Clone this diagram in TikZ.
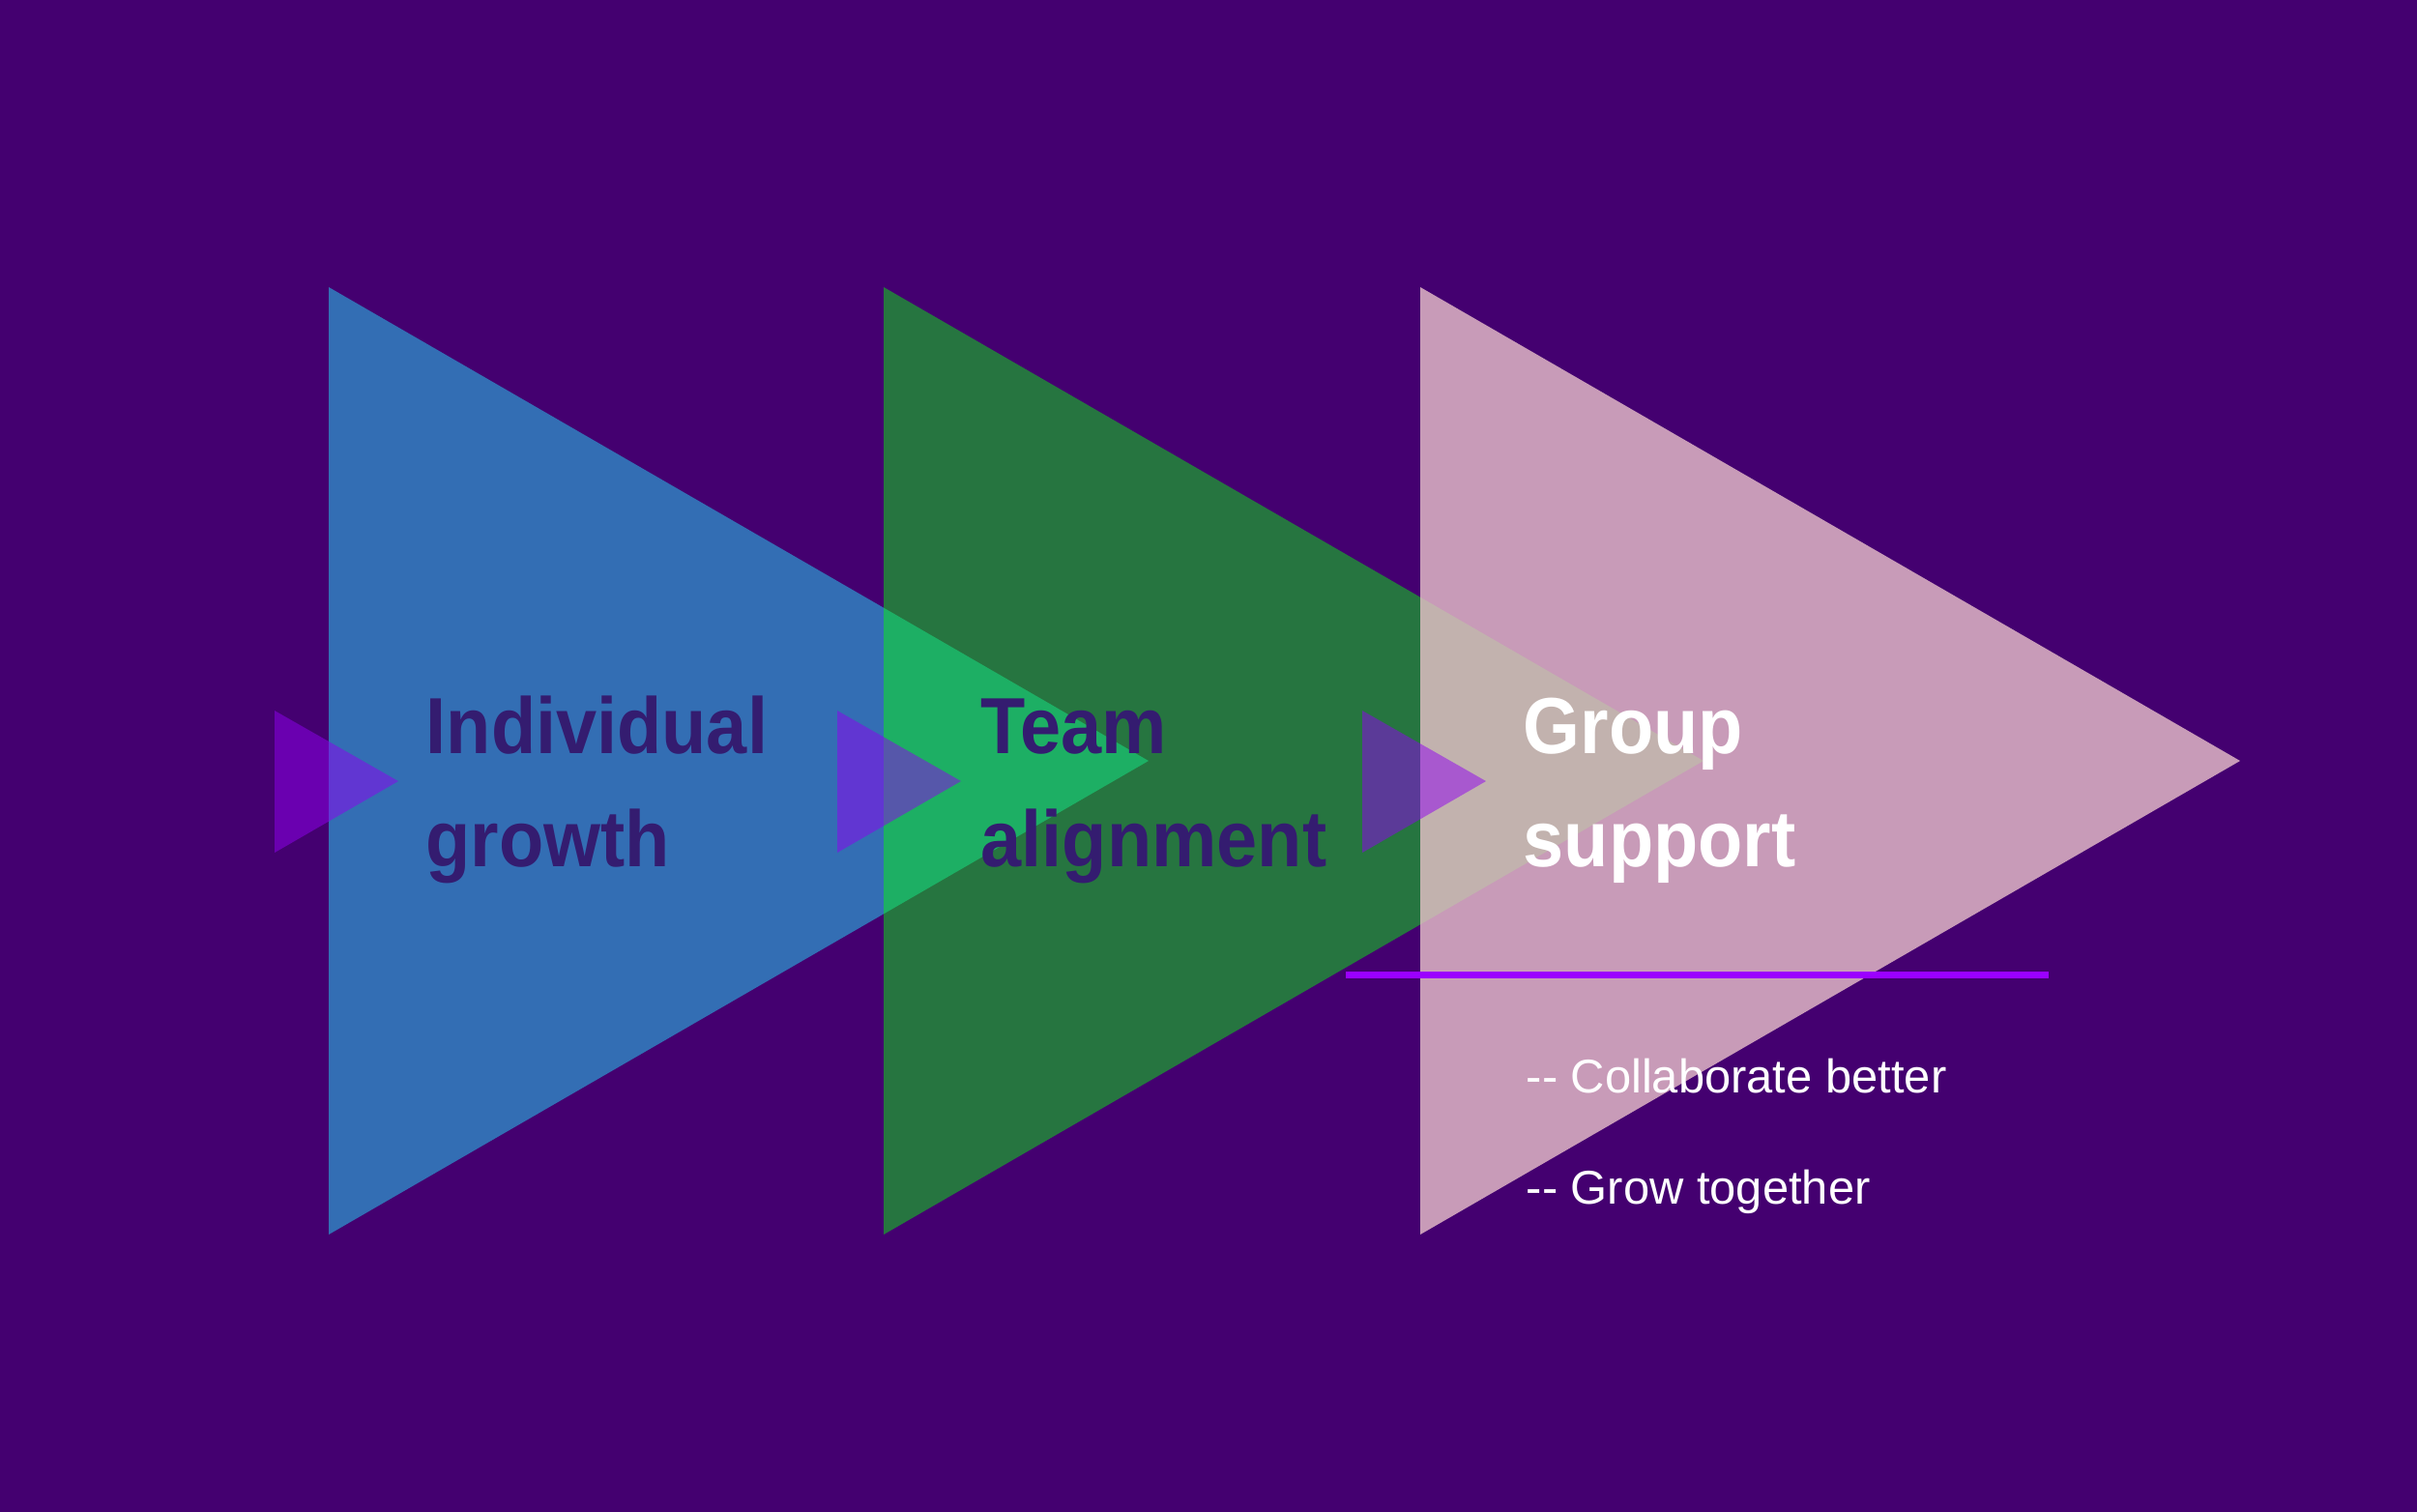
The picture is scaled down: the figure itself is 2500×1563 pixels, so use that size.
\documentclass[tikz,border=0pt]{standalone}
\usepackage{fontspec}
\setmainfont{Liberation Sans}
\newfontfamily\titlefont[FakeStretch=0.92,BoldFeatures={FakeStretch=0.92}]{Liberation Sans}
\definecolor{bgpurple}{RGB}{68,0,112}
\definecolor{blueshape}{RGB}{51,110,180}
\definecolor{greenshape}{RGB}{5,250,10}
\definecolor{pinkshape}{RGB}{233,194,202}
\definecolor{arrowpurple}{RGB}{144,0,240}
\definecolor{linepurple}{RGB}{155,0,255}
\definecolor{darktext}{RGB}{52,28,112}

\begin{document}
\begin{tikzpicture}[x=0.01cm,y=-0.01cm,
    smalltri/.style={fill=arrowpurple,fill opacity=0.5},
    title/.style={anchor=base west,align=left,inner sep=0pt,font=\fontsize{23.4}{33}\selectfont\titlefont\bfseries},
    bullet/.style={anchor=base west,inner sep=0pt,text=white,font=\fontsize{13.9}{16}\selectfont}]
      \useasboundingbox (0,0) rectangle (2500,1563);
      \fill[bgpurple] (-10,-10) rectangle (2510,1573);
      % big triangles
      \fill[blueshape] (340,297) -- (340,1277) -- (1188,787) -- cycle;
      \fill[greenshape,fill opacity=0.47] (914,297) -- (914,1277) -- (1762,787) -- cycle;
      \fill[pinkshape,fill opacity=0.8] (1469,297) -- (1469,1277) -- (2317,787) -- cycle;
      % small triangles
      \fill[smalltri] (284,735) -- (284,882) -- (412,808) -- cycle;
      \fill[smalltri] (866,735) -- (866,882) -- (994,808) -- cycle;
      \fill[smalltri] (1409,735) -- (1409,882) -- (1537,808) -- cycle;
      \draw[linepurple,line width=2pt] (1392,1008) -- (2119,1008);
      % base anchor sits on the last line
      \node[title,text=darktext] (indiv) at (440,896) {Individual\\growth};
      \node[title,text=darktext] (team) at (1014,896) {Team\\alignment};
      \node[title,text=white] (group) at (1575,896) {Group\\support};
      \node[bullet] (collab) at (1578,1130) {-{}- Collaborate better};
      \node[bullet] (grow) at (1578,1245) {-{}- Grow together};
    \end{tikzpicture}
\end{document}
